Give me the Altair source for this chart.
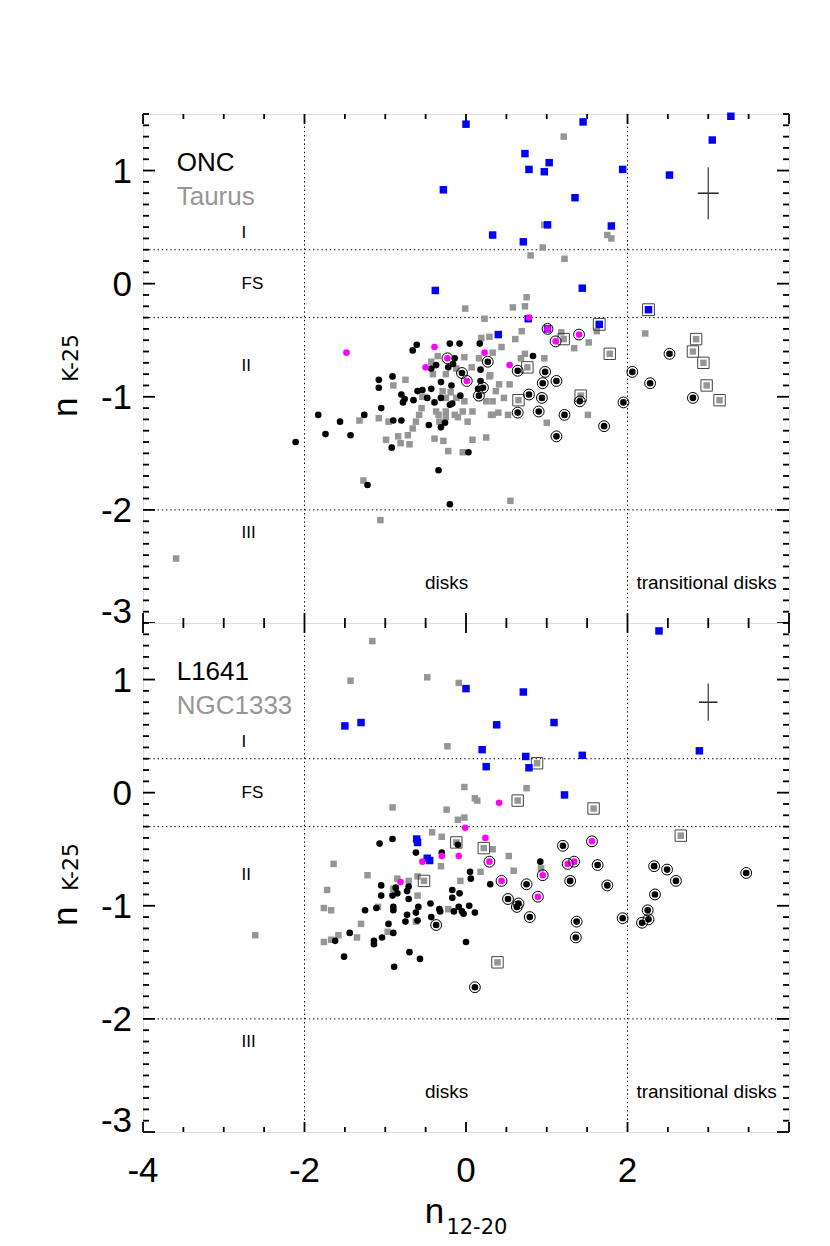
import altair as alt
import pandas as pd

FONT = "Liberation Sans"
SUBFONT = "DejaVu Sans"
W, H = 646, 509
X_DOMAIN = [-4, 4]
Y_DOMAIN = [-3, 1.5]
X_LABEL_VALUES = [-4, -2, 0, 2]
X_LABELS = ["-4", "-2", "0", "2"]
Y_LABEL_VALUES = [-2, -1, 0, 1]
Y_LABELS = ["-2", "-1", "0", "1"]
Y_BOTTOM_LABEL = ["-3"]
X_MAJOR = [-4, -2, 0, 2, 4]
X_MINOR = [-3.5, -3, -2.5, -1.5, -1, -0.5, 0.5, 1, 1.5, 2.5, 3, 3.5]
Y_MAJOR = [-3, -2, -1, 0, 1]
Y_MINOR = [round(-3 + 0.1 * i, 1) for i in range(46) if i % 10 != 0]
HLINES = [0.3, -0.3, -2.0]
VLINES = [-2, 2]
REGION_TEXT = ["I", "FS", "II", "III"]
REGION_Y = [0.45, 0.0, -0.73, -2.2]
REGION_X = -2.78
DISK_TEXT = ["disks", "transitional disks"]
DISK_X = [-0.24, 2.98]
DISK_Y = -2.65

GRAY = "#969696"
BLUE = "#0000ff"
MAGENTA = "#ff00ff"

# ---------------- top panel: ONC (circles) / Taurus (squares) ----------------
top_black = [(-0.61,-0.54),(-0.66,-0.59),(-0.20,-0.53),(-0.08,-0.53),(0.17,-0.53),(-0.14,-0.66),
    (-0.16,-0.71),(-0.22,-0.74),(-0.37,-0.72),(-0.43,-0.75),(-0.91,-0.82),(-1.08,-0.85),(-1.08,-0.92),
    (-0.31,-0.87),(-0.18,-0.90),(0.18,-0.76),(0.18,-0.86),(0.15,-0.93),(-0.60,-0.95),(-0.54,-0.94),
    (-0.43,-0.93),(-0.80,-0.98),(-0.76,-1.02),(-0.78,-1.05),(-0.65,-1.03),(-0.48,-1.01),(-0.39,-1.05),
    (-0.31,-1.01),(-0.20,-1.07),(-0.17,-1.06),(-0.07,-0.99),(-1.05,-1.10),(-1.26,-1.16),(-1.83,-1.16),
    (-1.56,-1.22),(-1.74,-1.33),(-1.43,-1.34),(-0.90,-1.21),(-0.80,-1.21),(-0.46,-1.25),(-0.31,-1.27),
    (-0.26,-1.23),(-0.92,-1.45),(0.03,-1.49),(-0.34,-1.65),(-1.22,-1.78),(-0.20,-1.95),(-2.11,-1.40),
    (0.83,-0.64)]
top_black_ring = [(0.27,-0.69),(-0.05,-0.79),(0.21,-0.92),(0.16,-0.99),(0.64,-0.77),(0.98,-0.78),
    (1.12,-0.86),(0.95,-0.88),(0.78,-0.98),(0.94,-1.01),(1.41,-1.04),(1.95,-1.05),(2.06,-0.78),
    (2.28,-0.88),(2.52,-0.62),(2.81,-1.01),(0.64,-1.14),(0.90,-1.13),(1.22,-1.16),(1.71,-1.26),(1.12,-1.35)]
top_mag = [(-1.48,-0.61),(-0.39,-0.56),(0.23,-0.61),(-0.50,-0.74),(0.54,-0.72),(0.78,-0.30)]
top_mag_ring = [(-0.23,-0.66),(0.01,-0.86),(1.01,-0.40),(1.40,-0.45),(1.11,-0.51)]
top_blue = [(0.00,1.41),(1.45,1.43),(3.28,1.48),(3.05,1.27),(0.73,1.15),(1.03,1.07),(0.78,1.01),
    (0.97,0.99),(1.94,1.01),(2.52,0.96),(1.35,0.76),(1.01,0.52),(1.80,0.51),(0.33,0.43),(0.71,0.37),
    (1.44,-0.04),(-0.28,0.83),(-0.38,-0.06),(0.40,-0.45),(0.77,-0.31),(1.01,-0.40)]
top_blue_box = [(2.26,-0.23),(1.65,-0.36)]
top_gray = [(1.21,1.30),(0.97,0.52),(1.75,0.43),(1.80,0.40),(0.95,0.32),(0.80,0.25),(1.22,0.22),
    (-0.01,-0.22),(0.58,-0.21),(0.73,-0.20),(0.75,-0.12),(0.23,-0.31),(2.22,-0.44),(0.69,-0.42),
    (0.61,-0.49),(1.18,-0.43),(1.62,-0.42),(1.52,-0.52),(1.34,-0.57),(0.97,-0.66),(0.73,-0.62),
    (0.68,-0.66),(0.44,-0.56),(0.33,-0.61),(0.29,-0.82),(0.41,-0.89),(0.54,-0.89),(0.37,-0.95),
    (0.47,-1.01),(0.33,-1.16),(0.52,-1.16),(1.51,-1.16),(1.00,-1.23),(0.25,-1.36),(0.19,-0.48),
    (0.29,-0.47),(-0.02,-0.65),(0.16,-0.66),(0.07,-0.74),(-0.35,-0.64),(-0.43,-0.69),(-0.41,-0.80),
    (-0.25,-0.80),(-0.12,-0.75),(0.30,-0.81),(0.33,-1.04),(0.25,-1.04),(-0.02,-1.04),(-0.54,-1.00),
    (-0.55,-1.10),(-0.58,-1.16),(-0.62,-1.22),(-0.66,-1.28),(-0.37,-1.13),(-0.34,-1.16),(-0.25,-1.13),
    (-0.14,-1.16),(-0.04,-1.13),(0.08,-1.13),(0.31,-1.16),(0.40,-1.14),(-0.33,-1.22),(-0.25,-1.18),
    (-0.10,-1.18),(0.02,-1.22),(-0.72,-1.34),(-0.84,-1.35),(-0.99,-1.38),(-0.81,-1.41),(-0.70,-1.42),
    (-0.39,-1.37),(-0.28,-1.39),(0.08,-1.38),(-0.22,-1.48),(-0.04,-1.49),(-1.32,-1.21),(-1.08,-1.19),
    (-0.96,-1.22),(-0.90,-0.90),(-0.75,-0.85),(-0.19,-0.96),(-0.29,-0.95),(-0.25,-1.01),(-0.12,-1.01),
    (-1.27,-1.74),(0.55,-1.92),(-1.06,-2.09),(-3.59,-2.43)]
top_gray_box = [(1.21,-0.49),(1.78,-0.62),(2.85,-0.49),(2.81,-0.60),(2.94,-0.70),(2.98,-0.90),
    (3.14,-1.03),(0.76,-0.74),(1.42,-0.99),(0.65,-1.03)]
top_err = [3.0, 0.80, 0.13, 0.23]   # x, y, dx, dy

# ---------------- bottom panel: L1641 (circles) / NGC1333 (squares) ----------------
bot_black = [(-1.07,-0.45),(-0.91,-0.41),(-0.62,-0.53),(-0.30,-0.53),(-0.10,-0.46),(0.05,-0.70),
    (0.06,-0.76),(0.30,-0.81),(-1.05,-0.82),(-1.05,-0.91),(-0.91,-0.91),(-0.87,-0.84),(-0.85,-0.89),
    (-0.73,-0.87),(-0.71,-0.83),(-0.71,-0.94),(-1.25,-1.04),(-1.11,-1.02),(-0.90,-1.01),(-0.90,-1.04),
    (-0.59,-1.01),(-0.62,-1.06),(-0.73,-1.08),(-0.75,-1.14),(-0.60,-1.13),(-0.44,-0.98),(-0.43,-1.10),
    (-0.33,-1.03),(-0.32,-1.05),(-0.17,-0.86),(-0.17,-0.93),(-0.08,-0.89),(-0.15,-1.05),(-0.09,-1.01),
    (-0.05,-1.05),(-0.03,-1.07),(0.04,-1.00),(0.11,-1.06),(-0.96,-1.16),(-0.90,-1.24),(-1.04,-1.28),
    (-1.14,-1.31),(-1.14,-1.34),(-1.44,-1.24),(-1.62,-1.31),(-1.51,-1.45),(-0.70,-1.41),(-0.57,-1.47),
    (-0.89,-1.54),(0.00,-1.32),(0.92,-0.61)]
bot_black_ring = [(-0.37,-1.17),(0.11,-1.72),(0.75,-0.81),(0.52,-0.94),(0.65,-0.98),(0.63,-1.01),
    (0.79,-1.10),(1.20,-0.47),(1.63,-0.64),(1.29,-0.78),(1.75,-0.82),(1.37,-1.14),(1.36,-1.28),
    (1.94,-1.11),(2.33,-0.65),(2.49,-0.68),(2.60,-0.78),(2.34,-0.90),(2.25,-1.04),(2.26,-1.12),
    (2.18,-1.15),(3.47,-0.71)]
bot_mag = [(-0.01,-0.31),(0.24,-0.40),(-0.54,-0.61),(-0.30,-0.56),(-0.09,-0.56),(-0.81,-0.79),(0.41,-0.09)]
bot_mag_ring = [(0.29,-0.61),(0.44,-0.78),(0.89,-0.92),(1.56,-0.43),(1.26,-0.63),(1.34,-0.61),(0.95,-0.73)]
bot_blue = [(2.39,1.43),(0.00,0.92),(0.71,0.89),(-1.50,0.59),(-1.30,0.62),(0.38,0.60),(1.09,0.62),
    (0.20,0.38),(0.74,0.32),(1.44,0.33),(2.89,0.37),(0.25,0.23),(0.78,0.22),(1.22,-0.02),
    (-0.61,-0.41),(-0.60,-0.44),(-0.48,-0.58),(-0.45,-0.60)]
bot_blue_box = []
bot_gray = [(-1.16,1.34),(-1.43,0.99),(-0.48,1.02),(-0.09,0.97),(-0.23,0.41),(-0.02,0.05),(0.75,0.04),
    (0.11,-0.05),(0.14,-0.07),(-0.91,-0.13),(-0.24,-0.15),(-0.02,-0.22),(-0.10,-0.24),(-0.42,-0.35),
    (-0.30,-0.39),(0.33,-0.50),(0.53,-0.56),(0.59,-0.69),(0.18,-0.70),(-0.07,-0.78),(-0.31,-0.65),
    (-1.64,-0.63),(-1.22,-0.73),(-1.72,-0.86),(-1.76,-1.02),(-1.67,-1.04),(-1.30,-1.16),(-1.58,-1.26),
    (-1.67,-1.30),(-1.76,-1.32),(-1.35,-1.28),(-1.09,-1.01),(-0.97,-1.23),(-0.85,-0.76),(-0.90,-0.85),
    (-0.71,-0.78),(-0.60,-0.91),(-0.60,-0.74),(-0.62,-1.14),(-0.22,-1.03),(0.93,-0.67),(-2.61,-1.26)]
bot_gray_box = [(0.88,0.26),(0.64,-0.07),(1.58,-0.14),(2.66,-0.38),(-0.12,-0.44),(0.22,-0.49),
    (-0.52,-0.78),(0.39,-1.50)]
bot_err = [3.0, 0.80, 0.115, 0.165]

XS = alt.Scale(domain=X_DOMAIN, nice=False, zero=False)
YS = alt.Scale(domain=Y_DOMAIN, nice=False, zero=False)


def df(pairs):
    return pd.DataFrame(pairs, columns=["x", "y"])


def enc_xy():
    return dict(x=alt.X("x:Q", scale=XS, axis=None), y=alt.Y("y:Q", scale=YS, axis=None))


def points(pairs, **mark):
    return alt.Chart(df(pairs)).mark_point(opacity=1, **mark).encode(**enc_xy())


def text_value(t, x, y, **mark):
    return alt.Chart(pd.DataFrame({"t": [t]})).mark_text(baseline="alphabetic", **mark).encode(
        text="t:N", x=alt.value(x), y=alt.value(y))


def panel(d, name1, name2, show_x):
    layers = []
    layers.append(alt.Chart(pd.DataFrame({"v": HLINES})).mark_rule(
        color="black", strokeWidth=1, strokeDash=[1.4, 2.8]).encode(
        y=alt.Y("v:Q", scale=YS, axis=None)))
    layers.append(alt.Chart(pd.DataFrame({"v": VLINES})).mark_rule(
        color="black", strokeWidth=1, strokeDash=[1.4, 2.8]).encode(
        x=alt.X("v:Q", scale=XS, axis=None)))
    # inward ticks on all four sides
    for vals, L in ((Y_MAJOR, 12), (Y_MINOR, 6)):
        tdf = pd.DataFrame({"v": vals})
        for a, b in ((0, L), (W - L, W)):
            layers.append(alt.Chart(tdf).mark_rule(color="black", strokeWidth=1.8).encode(
                y=alt.Y("v:Q", scale=YS, axis=None), x=alt.value(a), x2=alt.value(b)))
    for vals, L in ((X_MAJOR, 10), (X_MINOR, 5)):
        tdf = pd.DataFrame({"v": vals})
        for a, b in ((0, L), (H - L, H)):
            layers.append(alt.Chart(tdf).mark_rule(color="black", strokeWidth=1.8).encode(
                x=alt.X("v:Q", scale=XS, axis=None), y=alt.value(a), y2=alt.value(b)))
    # tick labels
    ldf = pd.DataFrame({"v": Y_LABEL_VALUES, "t": Y_LABELS})
    layers.append(alt.Chart(ldf).mark_text(font=FONT, fontSize=35, align="right",
                                           baseline="alphabetic", dy=12.5, color="black").encode(
        y=alt.Y("v:Q", scale=YS, axis=None), x=alt.value(-11), text="t:N"))
    ldf3 = pd.DataFrame({"v": [Y_DOMAIN[0]], "t": Y_BOTTOM_LABEL})
    layers.append(alt.Chart(ldf3).mark_text(font=FONT, fontSize=35, align="right",
                                            baseline="alphabetic", color="black").encode(
        y=alt.Y("v:Q", scale=YS, axis=None), x=alt.value(-11), text="t:N"))
    if show_x:
        xdf = pd.DataFrame({"v": X_LABEL_VALUES, "t": X_LABELS})
        layers.append(alt.Chart(xdf).mark_text(font=FONT, fontSize=35, align="center",
                                               baseline="alphabetic", color="black").encode(
            x=alt.X("v:Q", scale=XS, axis=None), y=alt.value(H + 50), text="t:N"))
    # data
    layers.append(points(d["gray"], shape="square", size=42, filled=True, color=GRAY))
    layers.append(points(d["gray_box"], shape="square", size=42, filled=True, color=GRAY))
    layers.append(points(d["gray_box"], shape="square", size=130, filled=False, color="#444444",
                         strokeWidth=1))
    layers.append(points(d["black"], shape="circle", size=44, filled=True, color="black"))
    layers.append(points(d["black_ring"], shape="circle", size=44, filled=True, color="black"))
    layers.append(points(d["black_ring"], shape="circle", size=118, filled=False, color="black",
                         strokeWidth=1))
    layers.append(points(d["blue"], shape="square", size=56, filled=True, color=BLUE))
    if d["blue_box"]:
        layers.append(points(d["blue_box"], shape="square", size=56, filled=True, color=BLUE))
        layers.append(points(d["blue_box"], shape="square", size=140, filled=False,
                             color="#444444", strokeWidth=1))
    layers.append(points(d["mag"], shape="circle", size=44, filled=True, color=MAGENTA))
    layers.append(points(d["mag_ring"], shape="circle", size=44, filled=True, color=MAGENTA))
    layers.append(points(d["mag_ring"], shape="circle", size=118, filled=False, color="black",
                         strokeWidth=1))
    # error cross
    ex, ey, edx, edy = d["err"]
    edf = pd.DataFrame({"x": [ex], "y": [ey], "xa": [ex - edx], "xb": [ex + edx],
                        "ya": [ey - edy], "yb": [ey + edy]})
    layers.append(alt.Chart(edf).mark_rule(color="black", strokeWidth=1.3).encode(
        x=alt.X("xa:Q", scale=XS, axis=None), x2="xb:Q", y=alt.Y("y:Q", scale=YS, axis=None)))
    layers.append(alt.Chart(edf).mark_rule(color="#444444", strokeWidth=1.3).encode(
        x=alt.X("x:Q", scale=XS, axis=None), y=alt.Y("ya:Q", scale=YS, axis=None), y2="yb:Q"))
    # region labels
    rdf = pd.DataFrame({"t": REGION_TEXT, "y": REGION_Y, "x": [REGION_X] * len(REGION_Y)})
    layers.append(alt.Chart(rdf).mark_text(font=FONT, fontSize=17, align="left", baseline="middle",
                                           color="black").encode(
        x=alt.X("x:Q", scale=XS, axis=None), y=alt.Y("y:Q", scale=YS, axis=None), text="t:N"))
    ddf = pd.DataFrame({"t": DISK_TEXT, "x": DISK_X, "y": [DISK_Y] * len(DISK_X)})
    layers.append(alt.Chart(ddf).mark_text(font=FONT, fontSize=19, align="center", baseline="middle",
                                           color="black").encode(
        x=alt.X("x:Q", scale=XS, axis=None), y=alt.Y("y:Q", scale=YS, axis=None), text="t:N"))
    # legend names
    layers.append(text_value(name1, 33.7, 57, font=FONT, fontSize=26, align="left", color="black"))
    layers.append(text_value(name2, 33.7, 91, font=FONT, fontSize=26, align="left", color=GRAY))
    # y title n_{K-25}
    layers.append(text_value("n", -66, 303, font=FONT, fontSize=35, align="left", angle=270,
                             color="black"))
    layers.append(text_value("K-25", -65, 268, font=SUBFONT, fontSize=22, align="left", angle=270,
                             color="black"))
    if show_x:
        layers.append(text_value("n", 281.7, 600.4, font=FONT, fontSize=35, align="left",
                                 color="black"))
        layers.append(text_value("12-20", 303.4, 611, font=SUBFONT, fontSize=21, align="left",
                                 color="black"))
    return alt.layer(*layers).properties(width=W, height=H)


top_d = dict(black=top_black, black_ring=top_black_ring, mag=top_mag, mag_ring=top_mag_ring,
             blue=top_blue, blue_box=top_blue_box, gray=top_gray, gray_box=top_gray_box, err=top_err)
bot_d = dict(black=bot_black, black_ring=bot_black_ring, mag=bot_mag, mag_ring=bot_mag_ring,
             blue=bot_blue, blue_box=bot_blue_box, gray=bot_gray, gray_box=bot_gray_box, err=bot_err)

chart = alt.vconcat(
    panel(top_d, "ONC", "Taurus", False),
    panel(bot_d, "L1641", "NGC1333", True),
    spacing=0, bounds="flush",
).properties(
    padding={"left": 40, "top": 104, "right": 5, "bottom": 5}
).configure_view(stroke="black", strokeWidth=2.5).configure(background="white")

chart.save("out.html", embed_options={"renderer": "svg", "actions": False})
